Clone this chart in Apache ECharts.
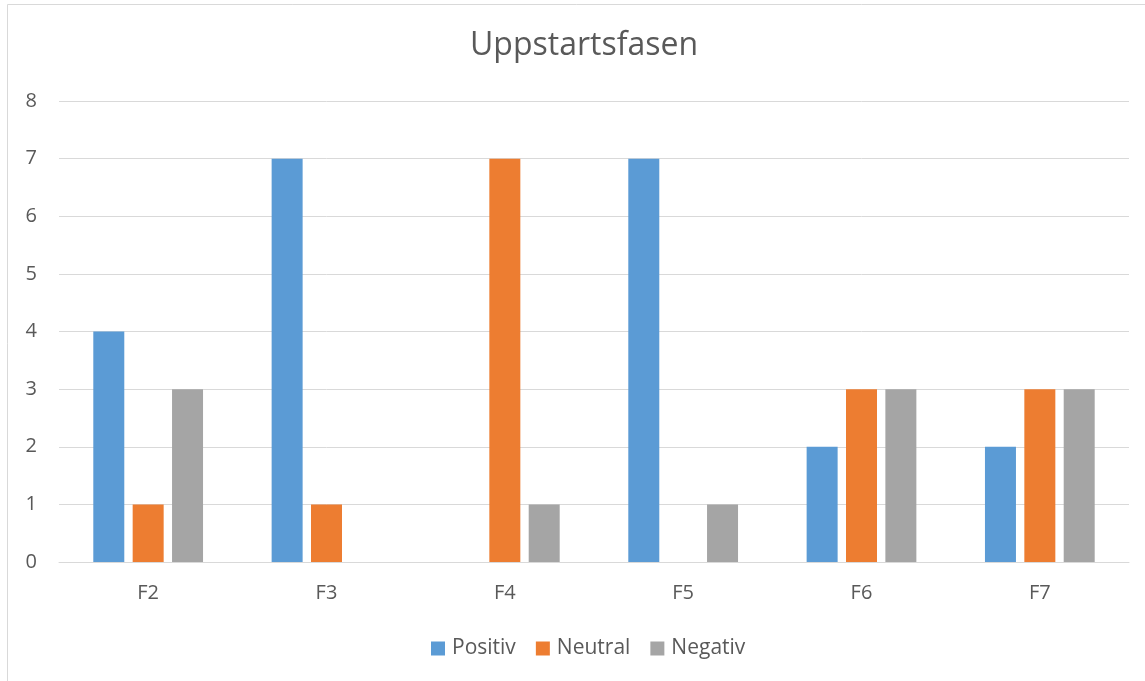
<!DOCTYPE html>
<html>
<head>
<meta charset="utf-8">
<script src="https://cdn.jsdelivr.net/npm/echarts@6/dist/echarts.min.js"></script>
<style>
html,body{margin:0;padding:0;background:#fff;}
#chart{width:1145px;height:681px;}
</style>
</head>
<body>
<div id="chart"></div>
<script>
const categories = ['F2','F3','F4','F5','F6','F7'];
const positiv = [4, 7, 0, 7, 2, 2];
const neutral = [1, 1, 7, 0, 3, 3];
const negativ = [3, 0, 1, 1, 3, 3];
const seriesNames = ['Positiv','Neutral','Negativ'];
const yTicks = [0,1,2,3,4,5,6,7,8];

const FONT = '"Open Sans", "Noto Sans", sans-serif';
const chart = echarts.init(document.getElementById('chart'));
chart.setOption({
  animation: false,
  backgroundColor: '#fff',
  color: ['#5B9BD5','#ED7D31','#A5A5A5'],
  title: {
    text: 'Uppstartsfasen',
    left: 465,
    top: 25,
    textStyle: {fontFamily: FONT, fontSize: 32, fontWeight: 'normal', color: '#595959'}
  },
  graphic: [{
    type: 'rect',
    shape: {x: 7.5, y: 4.5, width: 1150, height: 700},
    style: {fill: 'none', stroke: '#D9D9D9', lineWidth: 1},
    silent: true
  }],
  legend: {
    data: seriesNames,
    bottom: 17,
    left: 426,
    icon: 'rect',
    itemWidth: 14,
    itemHeight: 14,
    itemGap: 20,
    textStyle: {fontFamily: FONT, fontSize: 21, color: '#595959', padding: [0,0,0,2]}
  },
  grid: {left: 59, right: 16, top: 101, bottom: 119, containLabel: false},
  xAxis: {
    type: 'category',
    data: categories,
    axisLine: {lineStyle: {color: '#D9D9D9', width: 1}},
    axisTick: {show: false},
    axisLabel: {fontFamily: FONT, fontSize: 20, color: '#595959', margin: 21}
  },
  yAxis: {
    type: 'value',
    min: yTicks[0],
    max: yTicks[yTicks.length-1],
    interval: 1,
    axisLine: {show: false},
    axisTick: {show: false},
    splitLine: {lineStyle: {color: '#D9D9D9', width: 1}},
    axisLabel: {fontFamily: FONT, fontSize: 20, color: '#595959', margin: 22}
  },
  series: [
    {name: seriesNames[0], type: 'bar', data: positiv, barWidth: 31, barGap: '27%'},
    {name: seriesNames[1], type: 'bar', data: neutral, barWidth: 31, barGap: '27%'},
    {name: seriesNames[2], type: 'bar', data: negativ, barWidth: 31, barGap: '27%'}
  ]
});
</script>
</body>
</html>
